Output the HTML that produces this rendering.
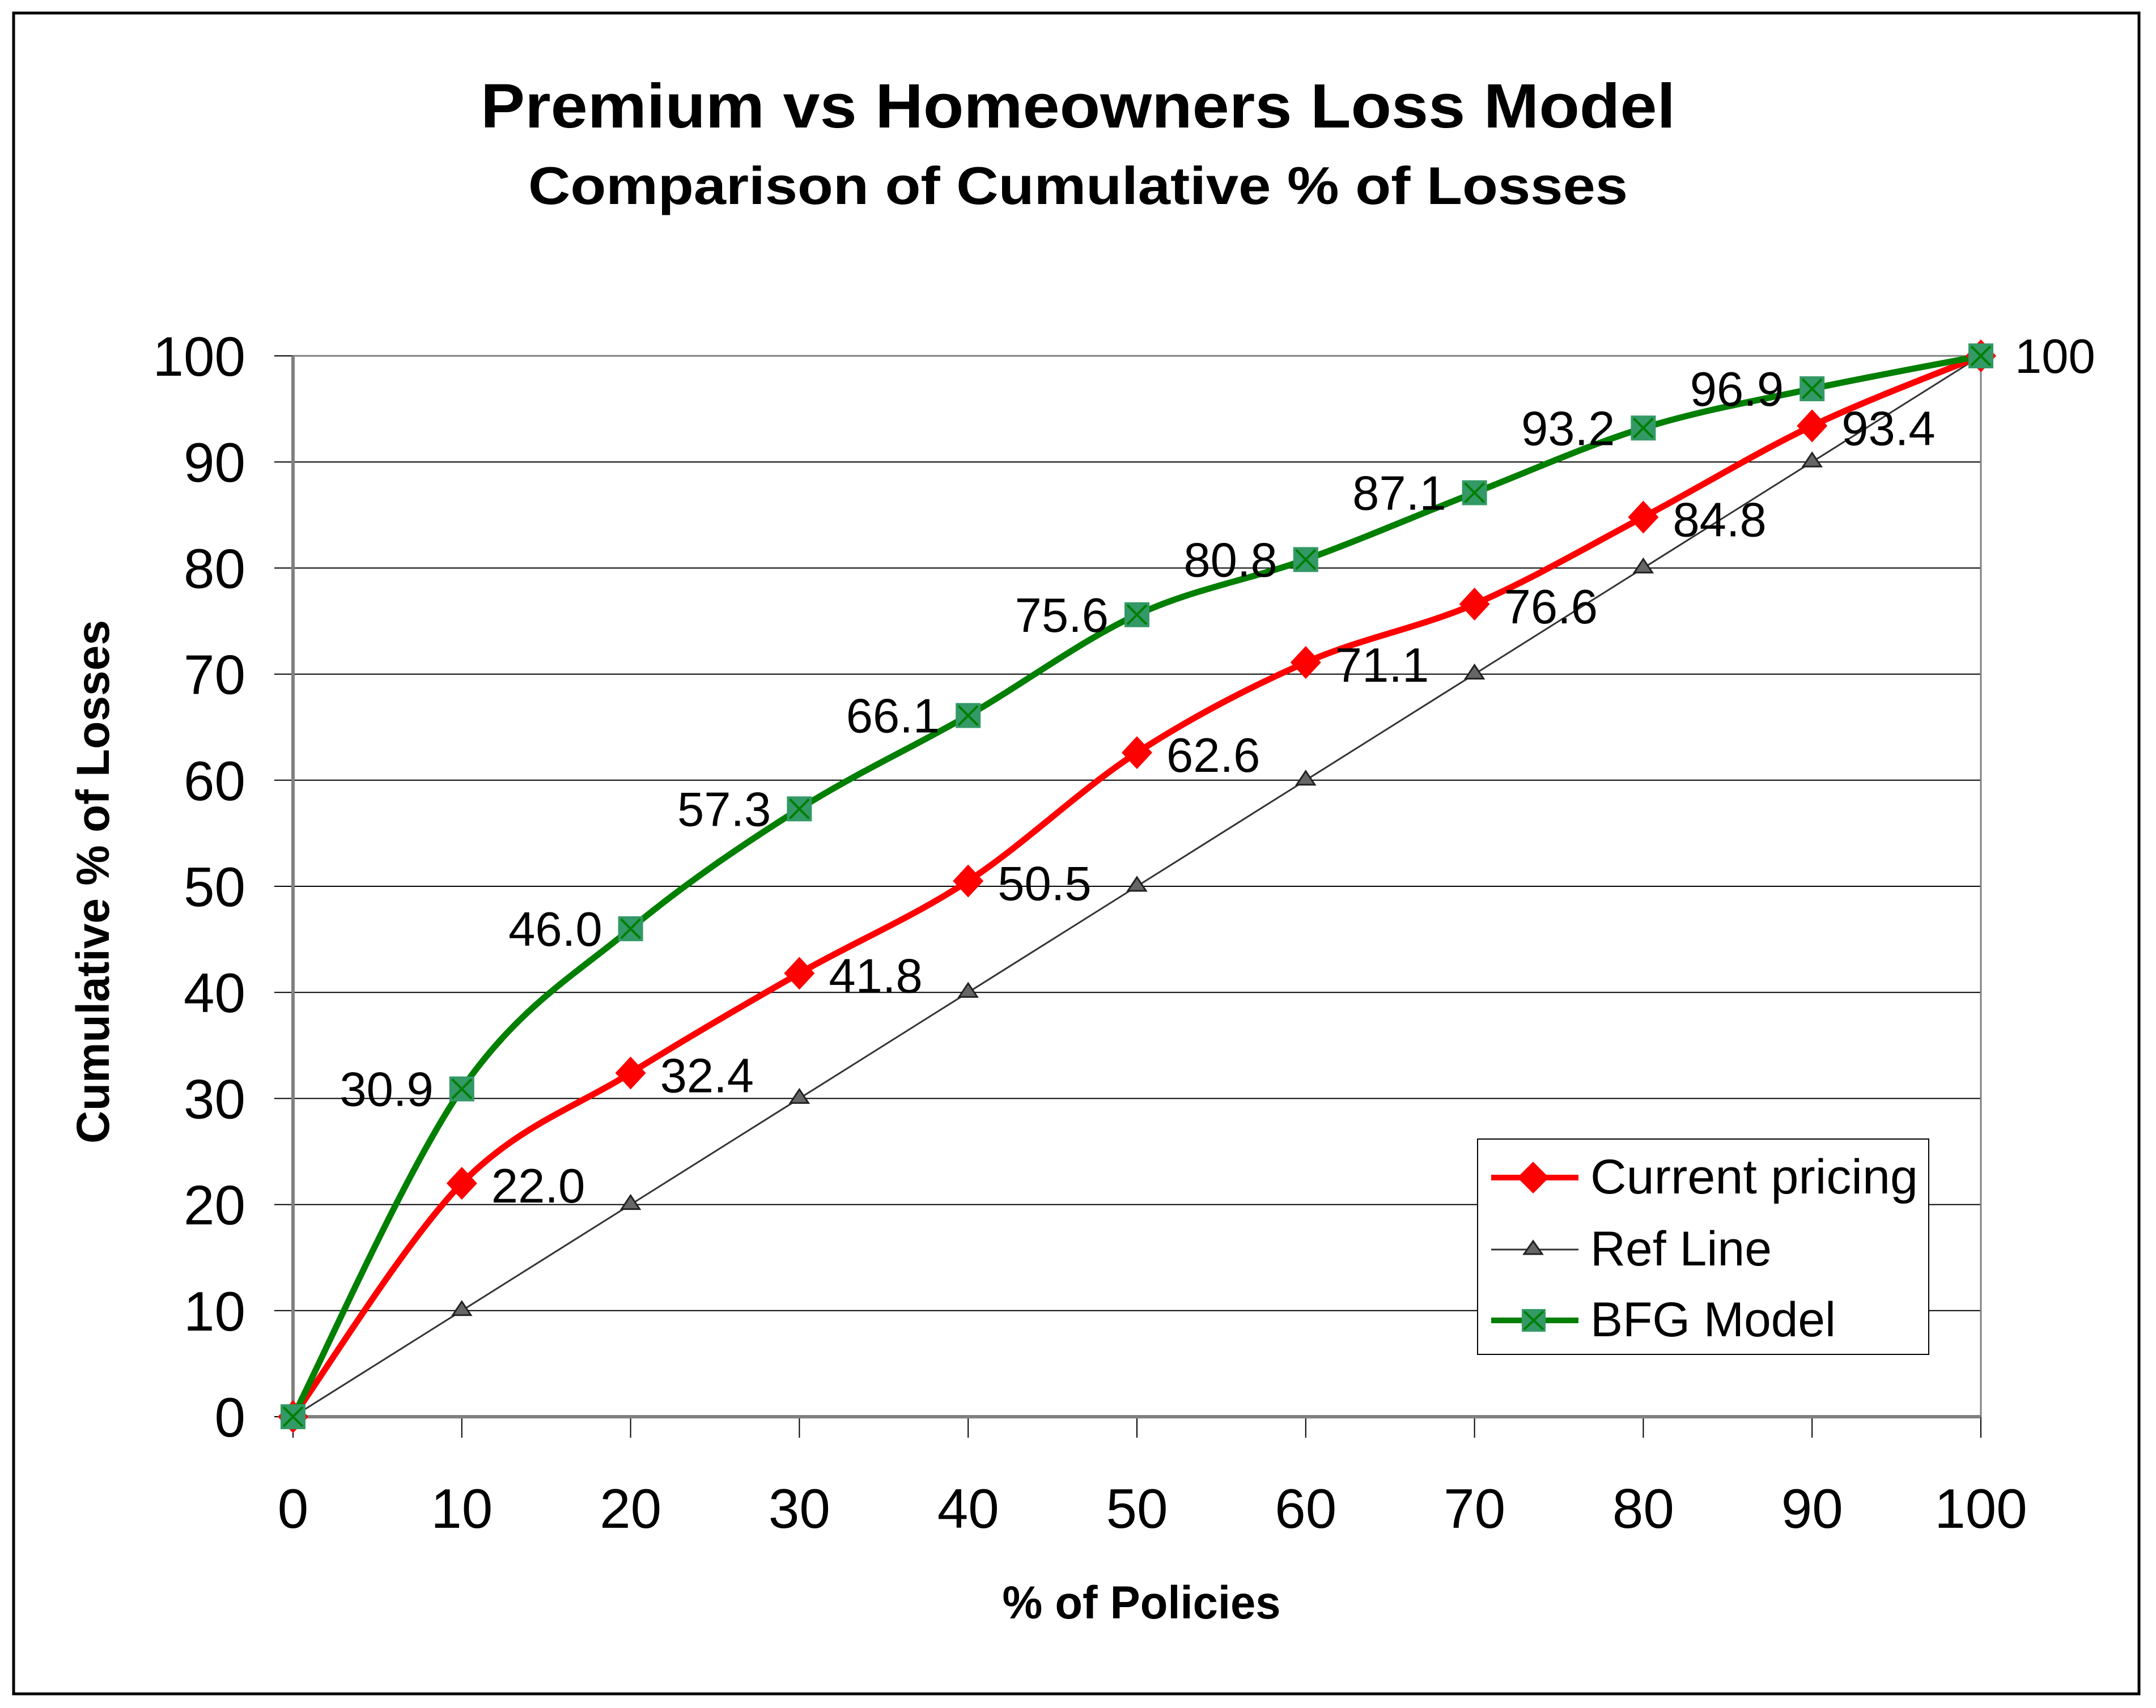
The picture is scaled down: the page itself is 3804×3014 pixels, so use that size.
<!DOCTYPE html>
<html><head><meta charset="utf-8"><style>
html,body{margin:0;padding:0;background:#fff}
svg{display:block}
text{font-family:"Liberation Sans",Arial,sans-serif}
</style></head><body>
<svg id="chart" width="3804" height="3014" viewBox="0 0 3804 3014" xmlns="http://www.w3.org/2000/svg">
<rect x="24" y="23" width="3750" height="2966" fill="#fff" stroke="#000" stroke-width="5"/>
<text x="1902" y="225" text-anchor="middle" font-size="110" font-weight="bold" textLength="2108" lengthAdjust="spacingAndGlyphs">Premium vs Homeowners Loss Model</text>
<text x="1902" y="360" text-anchor="middle" font-size="94" font-weight="bold" textLength="1940" lengthAdjust="spacingAndGlyphs">Comparison of Cumulative % of Losses</text>
<g id="grid"></g>
<g id="axes"></g>
<g id="series"></g>
<g id="labels"></g>
<text transform="translate(192,1556) rotate(-90)" text-anchor="middle" font-size="82" font-weight="bold" textLength="924" lengthAdjust="spacingAndGlyphs">Cumulative % of Losses</text>
<text x="2014" y="2856" text-anchor="middle" font-size="82" font-weight="bold" textLength="491" lengthAdjust="spacingAndGlyphs">% of Policies</text>
<g>
<rect x="2607" y="2010" width="796" height="380" fill="#fff" stroke="#000" stroke-width="2"/>
<g>
<line x1="2631" y1="2078" x2="2785" y2="2078" stroke="#ff0000" stroke-width="10"/>
<polygon points="2705,2050 2733,2078 2705,2106 2677,2078" fill="#ff0000"/>
<text x="2806" y="2106" font-size="86" textLength="578" lengthAdjust="spacingAndGlyphs">Current pricing</text>
</g>
<g>
<line x1="2631" y1="2205" x2="2785" y2="2205" stroke="#333" stroke-width="3"/>
<polygon points="2705,2190 2721,2213 2689,2213" fill="#666" stroke="#222" stroke-width="3"/>
<text x="2806" y="2233" font-size="86" textLength="320" lengthAdjust="spacingAndGlyphs">Ref Line</text>
</g>
<g>
<line x1="2631" y1="2330" x2="2785" y2="2330" stroke="#007f00" stroke-width="10"/>
<rect x="2685" y="2310" width="42" height="40" fill="#339966"/>
<path d="M2689,2314 L2723,2346 M2723,2314 L2689,2346" stroke="#007f00" stroke-width="4"/>
<text x="2806" y="2358" font-size="86" textLength="433" lengthAdjust="spacingAndGlyphs">BFG Model</text>
</g>
</g>
</svg>
<script>
const xCats = [0,10,20,30,40,50,60,70,80,90,100];
const currentPricing = [0,22.0,32.4,41.8,50.5,62.6,71.1,76.6,84.8,93.4,100];
const refLine = [0,10,20,30,40,50,60,70,80,90,100];
const bfgModel = [0,30.9,46.0,57.3,66.1,75.6,80.8,87.1,93.2,96.9,100];
const yTicks = [0,10,20,30,40,50,60,70,80,90,100];
const xTicks = [0,10,20,30,40,50,60,70,80,90,100];

const L=517,R=3495,T=628,B=2500;
const NS="http://www.w3.org/2000/svg";
function sx(v){return L+(v-0)/100*(R-L);}
function sy(v){return B-(v-0)/100*(B-T);}
function mk(tag,attrs,parent){const e=document.createElementNS(NS,tag);for(const k in attrs)e.setAttribute(k,attrs[k]);parent.appendChild(e);return e;}
const grid=document.getElementById('grid'),axes=document.getElementById('axes'),series=document.getElementById('series'),labels=document.getElementById('labels');

yTicks.forEach(v=>{
  if(v>0){const g=mk('line',{x1:L,x2:R,y1:sy(v),y2:sy(v),stroke:'#000','stroke-width':2},grid);
  
  }
  const t=mk('line',{x1:484,x2:L,y1:sy(v),y2:sy(v),stroke:'#000','stroke-width':2},axes);
  
  
  const tx=mk('text',{x:433,y:sy(v)+35,'text-anchor':'end','font-size':98},axes);
  tx.textContent=v;
  
  
});
xTicks.forEach(v=>{
  const t=mk('line',{x1:sx(v),x2:sx(v),y1:B,y2:2537,stroke:'#000','stroke-width':2},axes);
  
  
  const tx=mk('text',{x:sx(v),y:2696,'text-anchor':'middle','font-size':98},axes);
  tx.textContent=v;
  
  
});
const frame=mk('path',{d:`M${L},${T} H${R} V${B}`,fill:'none',stroke:'#808080','stroke-width':3},axes);


const ya=mk('line',{x1:L,x2:L,y1:T,y2:B,stroke:'#808080','stroke-width':6},axes);


const xa=mk('line',{x1:L,x2:R,y1:B,y2:B,stroke:'#808080','stroke-width':6},axes);



function smoothPath(pts){
  let d=`M${pts[0][0]},${pts[0][1]}`;
  for(let i=0;i<pts.length-1;i++){
    const p0=pts[i-1]||pts[i],p1=pts[i],p2=pts[i+1],p3=pts[i+2]||p2;
    const c1=[p1[0]+(p2[0]-p0[0])/6,p1[1]+(p2[1]-p0[1])/6];
    const c2=[p2[0]-(p3[0]-p1[0])/6,p2[1]-(p3[1]-p1[1])/6];
    d+=` C${c1[0]},${c1[1]} ${c2[0]},${c2[1]} ${p2[0]},${p2[1]}`;
  }
  return d;
}
// ref line
const refPts=xCats.map((x,i)=>[sx(x),sy(refLine[i])]);
const rl=mk('path',{d:'M'+refPts.map(p=>p.join(',')).join(' L'),fill:'none',stroke:'#333','stroke-width':3},series);


refPts.forEach((p,i)=>{
  const m=mk('polygon',{points:`${p[0]},${p[1]-16} ${p[0]+16},${p[1]+8} ${p[0]-16},${p[1]+8}`,fill:'#666',stroke:'#222','stroke-width':3},series);
  
  
});
// current pricing
const curPts=xCats.map((x,i)=>[sx(x),sy(currentPricing[i])]);
const cl=mk('path',{d:smoothPath(curPts),fill:'none',stroke:'#ff0000','stroke-width':11,'stroke-linejoin':'round'},series);


// bfg
const bfgPts=xCats.map((x,i)=>[sx(x),sy(bfgModel[i])]);
const bl=mk('path',{d:smoothPath(bfgPts),fill:'none',stroke:'#007f00','stroke-width':11,'stroke-linejoin':'round'},series);


curPts.forEach((p,i)=>{
  const m=mk('polygon',{points:`${p[0]},${p[1]-29} ${p[0]+27},${p[1]} ${p[0]},${p[1]+29} ${p[0]-27},${p[1]}`,fill:'#ff0000'},series);
  
  
});
bfgPts.forEach((p,i)=>{
  const m=mk('rect',{x:p[0]-22,y:p[1]-22,width:44,height:44,fill:'#339966'},series);
  
  
  const c=mk('path',{d:`M${p[0]-17},${p[1]-17} L${p[0]+17},${p[1]+17} M${p[0]+17},${p[1]-17} L${p[0]-17},${p[1]+17}`,stroke:'#007f00','stroke-width':4},series);
  
  
});
// labels
for(let i=1;i<xCats.length-1;i++){
  const g=mk('text',{x:sx(xCats[i])-50,y:sy(bfgModel[i])+30,'text-anchor':'end','font-size':85},labels);
  g.textContent=bfgModel[i].toFixed(1);
  
  
  const r=mk('text',{x:sx(xCats[i])+52,y:sy(currentPricing[i])+34,'text-anchor':'start','font-size':85},labels);
  r.textContent=currentPricing[i].toFixed(1);
  
  
}
const last=xCats.length-1;
const lt=mk('text',{x:sx(xCats[last])+60,y:sy(bfgModel[last])+30,'text-anchor':'start','font-size':85},labels);
lt.textContent=bfgModel[last];


</script>
</body></html>
